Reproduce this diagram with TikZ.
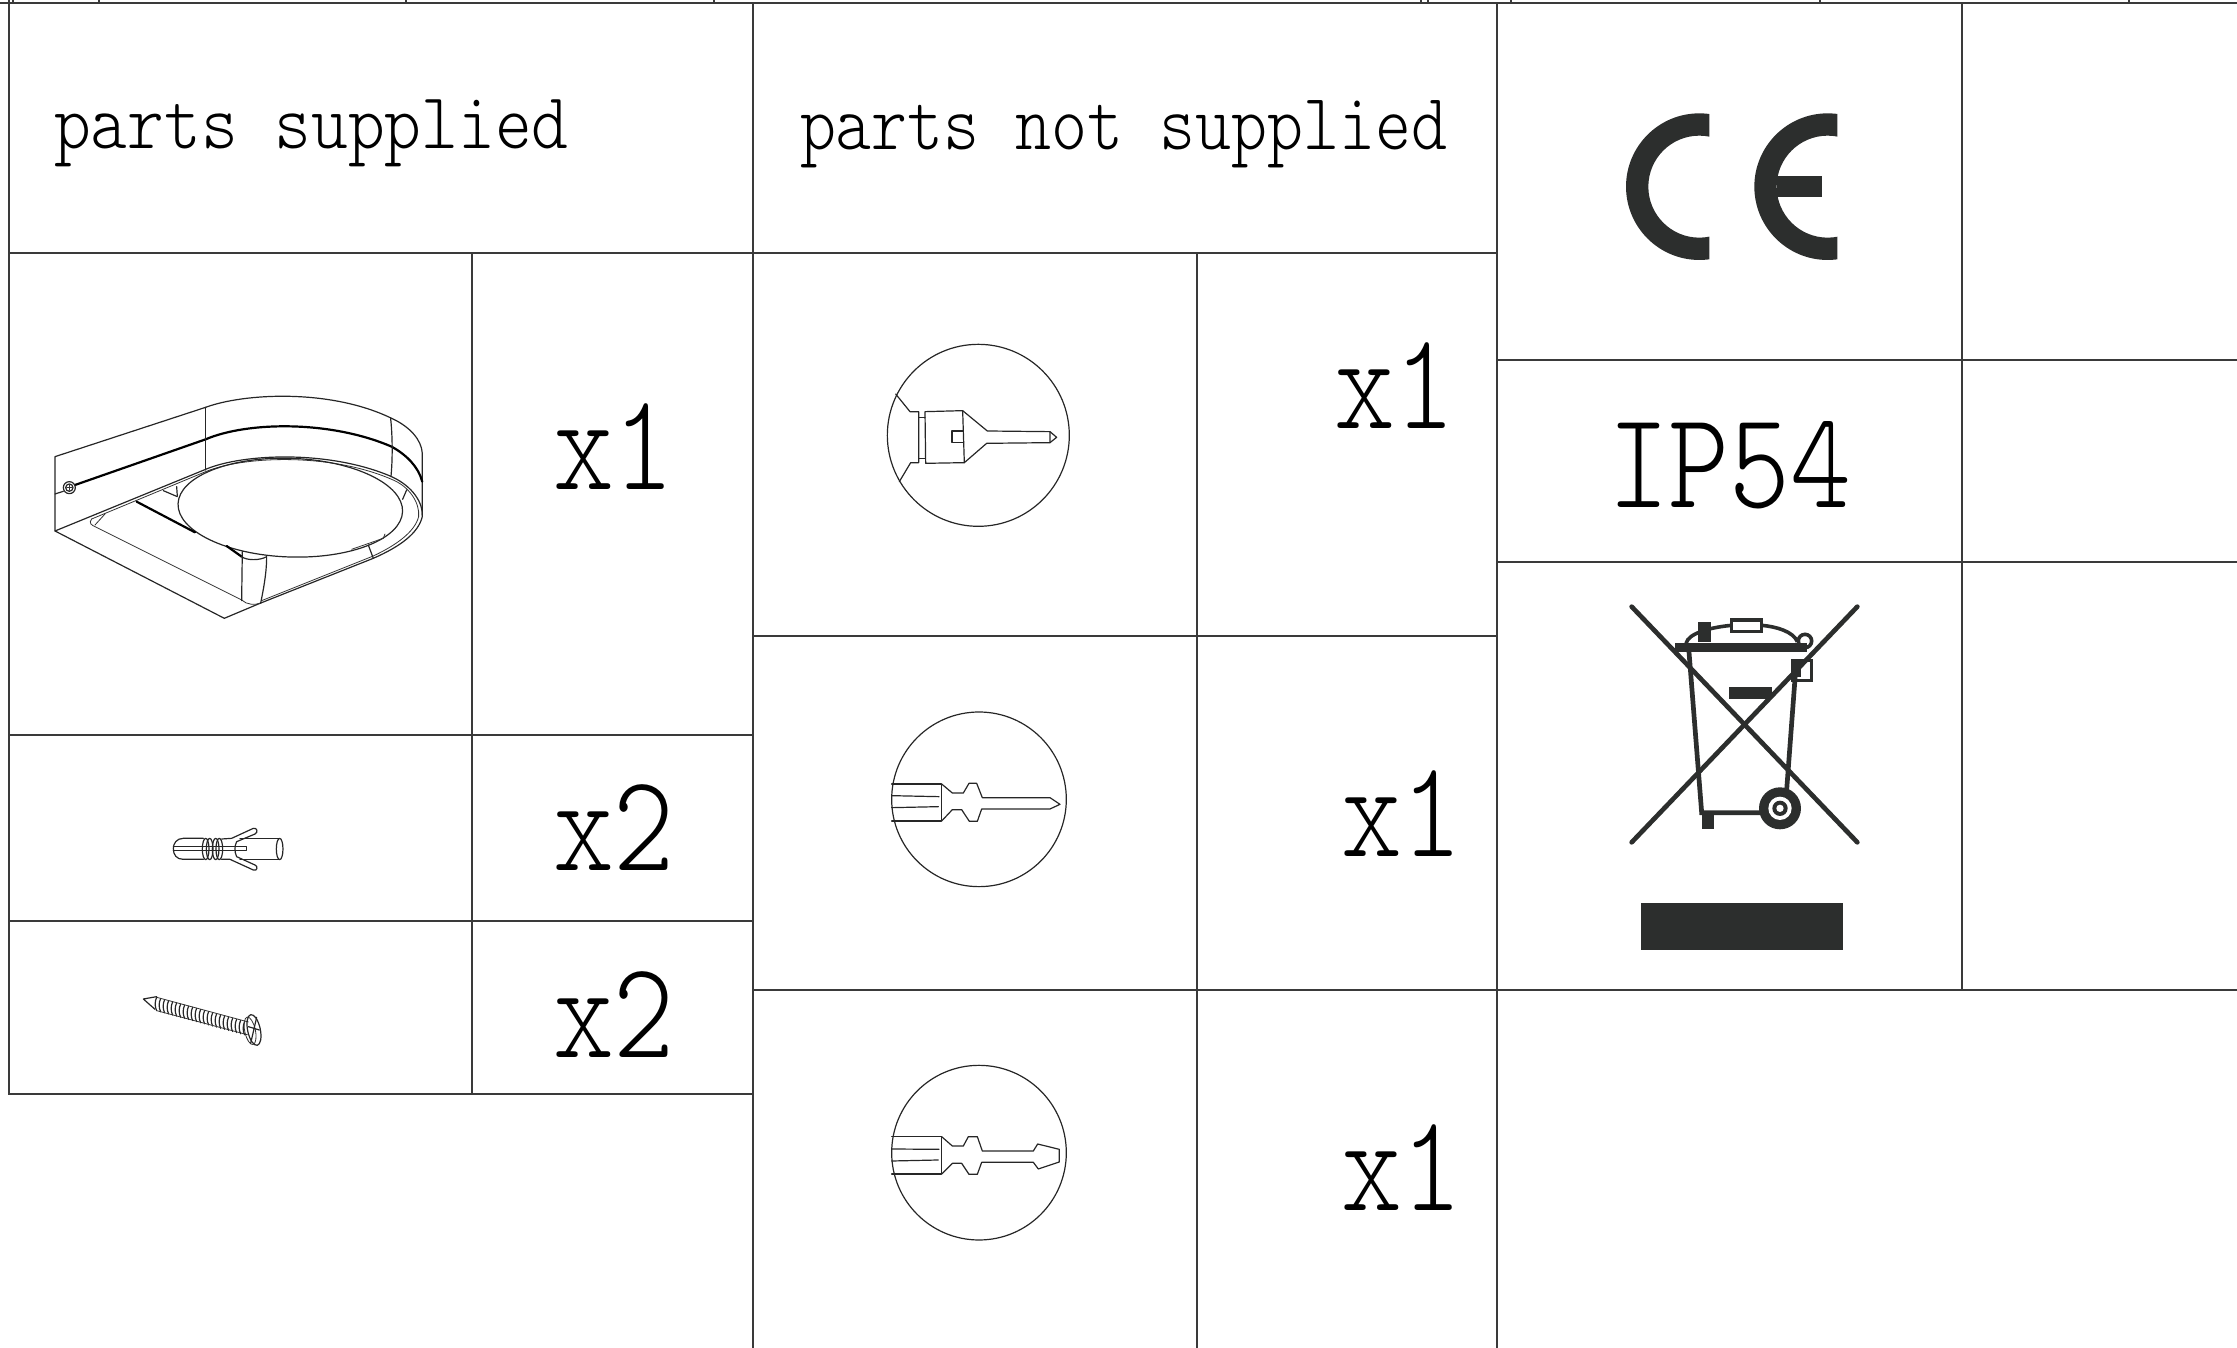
\documentclass[tikz,border=0pt]{standalone}
\usepackage{graphicx}
\usepackage{fontspec}
\newfontfamily\lightmono{Latin Modern Mono Light}
\definecolor{ink}{HTML}{2C2E2D}
\definecolor{gridc}{HTML}{3A3A3A}
\newcommand{\bigtxt}[1]{\scalebox{1}[1.19]{\fontsize{116}{116}\selectfont\lightmono #1}}
\newcommand{\headtxt}[1]{\scalebox{1}[1.14]{\fontsize{70}{70}\selectfont\lightmono #1}}
\newcommand{\headtxtb}[1]{\scalebox{1}[1.17]{\fontsize{68.5}{70}\selectfont\lightmono #1}}
\tikzset{
  gridline/.style={draw=gridc,line width=1.4pt},
  art/.style={draw=black!85,line width=1.2pt,line join=round,line cap=round},
  artthin/.style={draw=black!80,line width=0.8pt,line join=round,line cap=round},
  artbold/.style={draw=black,line width=2.2pt,line join=round,line cap=round},
  label/.style={anchor=base west,inner sep=0pt,outer sep=0pt,text=black},
  zoomed/.style={x=0.3333pt,y=-0.3333pt},
  binline/.style={draw=ink,line width=4.7pt},
  binthin/.style={draw=ink,line width=3.6pt},
}
\begin{document}
\begin{tikzpicture}[x=1pt,y=-1pt]
\useasboundingbox (0,0) rectangle (2237,1348);
% ---- grid
\draw[gridline] (0,3) -- (2237,3);
\draw[gridline,line width=2.2pt] (1511,3) -- (2129,3);
\foreach \x in {9,13,99,406,714,1421,1428,1511,1820,2129} \draw[gridline] (\x,0) -- (\x,3);
\draw[gridline] (9,3) -- (9,1094) -- (753,1094);
\draw[gridline] (753,3) -- (753,1348);
\draw[gridline] (1197,253) -- (1197,1348);
\draw[gridline] (1497,3) -- (1497,1348);
\draw[gridline] (1962,3) -- (1962,990);
\draw[gridline] (472,253) -- (472,1094);
\draw[gridline] (9,253) -- (1497,253);
\draw[gridline] (9,735) -- (753,735);
\draw[gridline] (9,921) -- (753,921);
\draw[gridline] (753,636) -- (1497,636);
\draw[gridline] (753,990) -- (2237,990);
\draw[gridline] (1497,360) -- (2237,360);
\draw[gridline] (1497,562) -- (2237,562);
% ---- texts
\node[label] (tsup) at (54,149) {\headtxt{parts supplied}};
\node[label] (tnot) at (800,150) {\headtxtb{parts not supplied}};
\node[label] (qa) at (553,489) {\bigtxt{x1}};
\node[label] (qb) at (553,870) {\bigtxt{x2}};
\node[label] (qc) at (553,1057) {\bigtxt{x2}};
\node[label] (qd) at (1334,428) {\bigtxt{x1}};
\node[label] (qe) at (1341,856) {\bigtxt{x1}};
\node[label] (qf) at (1341,1210) {\bigtxt{x1}};
\node[label] (qg) at (1608,507) {\bigtxt{IP54}};
% ---- lamp
\begin{scope}[shift={(30,370)},zoomed]
\draw[art] (527,112) -- (75,260) -- (75,483) -- (583,745) -- (690,700);
\draw[art] (527,112) .. controls (640,70) and (900,55) .. (1085,145) .. controls (1140,170) and (1175,210) .. (1177,250) -- (1177,435);
\draw[artbold] (135,345) -- (527,208) .. controls (650,155) and (900,150) .. (1085,230) .. controls (1130,255) and (1165,290) .. (1177,335);
\draw[art] (75,372) -- (100,364);
\draw[art] (75,483) -- (527,298) .. controls (640,250) and (900,240) .. (1085,320) .. controls (1150,350) and (1180,400) .. (1177,440) .. controls (1165,490) and (1110,530) .. (1030,565) -- (690,700);
\draw[artthin] (185,447) -- (527,305) .. controls (640,258) and (900,248) .. (1085,328) .. controls (1140,350) and (1170,400) .. (1166,440) .. controls (1155,485) and (1100,525) .. (1030,558) -- (695,692);
\draw[artthin] (185,447) .. controls (175,460) and (185,465) .. (195,470) -- (635,690) .. controls (650,705) and (675,705) .. (690,700);
\draw[artthin] (195,465) -- (225,432);
\draw[art,rotate around={-2:(781,413)}] (781,413) ellipse [x radius=337,y radius=148];
\draw[art] (527,112) -- (527,300);
\draw[art] (1082,145) .. controls (1088,200) and (1088,270) .. (1083,320);
\draw[art] (400,362) -- (442,380); \draw[art] (440,350) -- (442,378);
\draw[artbold] (320,395) -- (495,487);
\draw[artbold] (590,528) -- (635,560);
\draw[art] (635,560) .. controls (650,572) and (690,572) .. (710,560);
\draw[art] (637,545) -- (635,692);
\draw[art] (710,560) .. controls (710,610) and (700,660) .. (692,700);
\draw[art] (1015,525) -- (1030,565);
\draw[artthin] (965,538) -- (1060,505) -- (1065,492);
\draw[art] (1130,360) -- (1118,388);
\draw[art] (118,353) circle [radius=18];
\draw[art] (118,353) circle [radius=11];
\draw[artthin] (110,353) -- (126,353) (118,345) -- (118,361);
\end{scope}
% ---- wall plug
\begin{scope}[shift={(140,800)},zoomed]
\draw[art] (190,115) -- (130,115) .. controls (110,115) and (100,130) .. (100,146) .. controls (100,165) and (110,178) .. (130,178) -- (190,178);
\draw[art] (100,140) -- (320,140) -- (320,152) -- (100,152);
\foreach \cx in {197,209,227,238} \draw[art] (\cx,147) ellipse [x radius=10,y radius=32];
\draw[art] (245,117) -- (275,115) -- (340,85) .. controls (352,82) and (355,98) .. (345,102) -- (290,125) .. controls (283,140) and (283,155) .. (290,170) -- (345,195) .. controls (355,198) and (352,215) .. (340,210) -- (270,178) -- (245,178);
\draw[art] (300,115) -- (418,115) (300,178) -- (418,178);
\draw[art] (419,147) ellipse [x radius=10,y radius=32];
% ---- screw
\draw[art] (50,590) -- (10,597) -- (45,628);
\foreach \i in {0,...,22}
  \draw[art] ({50+12*\i},{592+3.3*\i}) .. controls ({44+12*\i},{605+3.3*\i}) and ({44+12*\i},{620+3.3*\i}) .. ({50+12*\i},{632+3.3*\i});
\draw[artthin] (50,592) -- (325,666) (50,632) -- (322,704);
\draw[art,rotate around={12:(342,690)}] (342,690) ellipse [x radius=19,y radius=47];
\draw[artthin,rotate around={12:(342,690)}] (330,690) ellipse [x radius=16,y radius=42];
\draw[art] (325,680) -- (358,690) (350,652) -- (332,730);
\end{scope}
% ---- tool 1
\begin{scope}[shift={(870,330)},zoomed]
\draw[art] (325,316) circle [radius=273];
\draw[art] (77,192) -- (120,245) -- (146,245) -- (146,398) -- (122,398) -- (88,455);
\draw[art] (146,262) -- (165,262) (146,385) -- (165,385);
\draw[art] (165,245) -- (278,242) -- (283,398) -- (167,400) -- cycle;
\draw[art] (278,242) -- (352,303) -- (540,305) -- (540,338) -- (350,340) -- (283,398);
\draw[art] (540,305) -- (560,322) -- (540,338);
\draw[art] (278,303) -- (246,303) -- (246,338) -- (280,338);
\end{scope}
% ---- tool 2
\begin{scope}[shift={(870,700)},zoomed]
\draw[art] (327,298) circle [radius=262];
\draw[art] (65,252) -- (215,252) -- (215,363) -- (65,363);
\draw[art] (65,287) -- (207,290) (65,323) -- (205,320);
\draw[art] (215,252) -- (247,279) -- (280,279) -- (297,250) -- (320,250) -- (337,293) -- (540,293) -- (570,313) -- (540,327) -- (335,327) -- (322,364) -- (298,364) -- (275,329) -- (247,329) -- (215,363);
\end{scope}
% ---- tool 3
\begin{scope}[shift={(870,1050)},zoomed]
\draw[art] (327,308) circle [radius=262];
\draw[art] (65,260) -- (215,260) -- (215,372) -- (65,372);
\draw[art] (65,297) -- (207,298) (65,333) -- (205,330);
\draw[art] (215,260) -- (247,288) -- (280,288) -- (295,260) -- (322,260) -- (337,303) -- (490,303) -- (503,282) -- (568,298) -- (568,336) -- (505,357) -- (490,337) -- (335,337) -- (322,373) -- (297,373) -- (275,340) -- (247,340) -- (215,372);
\end{scope}
% ---- CE
\begin{scope}[shift={(1600,90)},zoomed]
\begin{scope}
\clip (0,0) rectangle (328,600);
\fill[ink,even odd rule] (298,290) circle [radius=220] (298,290) circle [radius=153];
\end{scope}
\begin{scope}
\clip (400,0) rectangle (712,600);
\fill[ink,even odd rule] (683,290) circle [radius=220] (683,290) circle [radius=153];
\end{scope}
\fill[ink] (530,257) rectangle (667,322);
\end{scope}
% ---- WEEE bin
\begin{scope}[shift={(1610,590)},zoomed]
\draw[binline,line cap=round] (65,50) -- (742,757);
\draw[binline,line cap=round] (742,50) -- (65,757);
\fill[ink] (195,160) rectangle (590,186);
\draw[binline] (237,186) -- (275,668) -- (450,668);
\draw[binline] (557,240) -- (530,600);
\fill[ink] (277,675) rectangle (313,717);
\fill[ink] (265,95) rectangle (302,155);
\fill[ink] (358,292) rectangle (485,328);
\draw[binthin] (228,160) .. controls (235,130) and (300,112) .. (365,106);
\draw[binthin] (455,106) .. controls (500,110) and (550,125) .. (562,155);
\draw[binthin] (365,90) rectangle (455,124);
\draw[binthin] (585,153) circle [radius=20];
\draw[binthin] (548,212) rectangle (605,272);
\fill[ink] (543,208) rectangle (572,262);
\fill[ink] (510,655) circle [radius=63];
\fill[white] (510,655) circle [radius=35];
\fill[ink] (510,655) circle [radius=23];
\fill[white] (510,655) circle [radius=11];
\fill[ink] (93,938) rectangle (698,1080);
\end{scope}
\end{tikzpicture}
\end{document}
